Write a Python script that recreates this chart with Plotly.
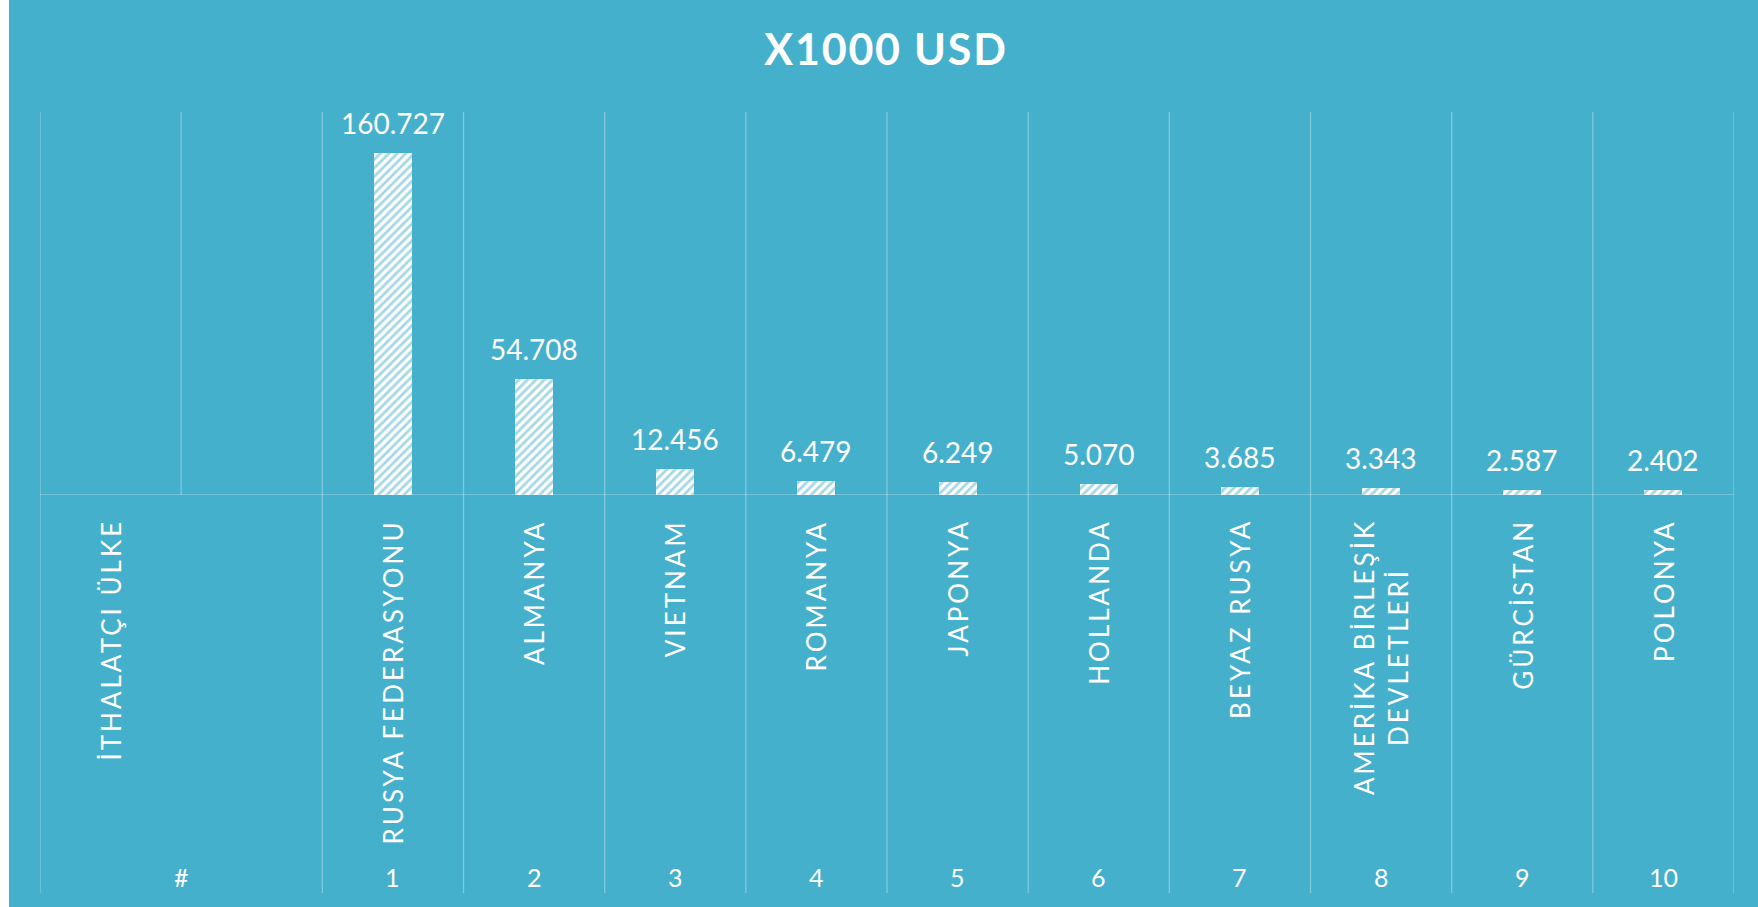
import plotly.graph_objects as go

# ---- data ----
header_label = "İTHALATÇI ÜLKE"
header_rank = "#"
ranks = ["1", "2", "3", "4", "5", "6", "7", "8", "9", "10"]
countries = ["RUSYA FEDERASYONU", "ALMANYA", "VIETNAM", "ROMANYA", "JAPONYA",
             "HOLLANDA", "BEYAZ RUSYA", "AMERİKA BİRLEŞİK<br>DEVLETLERİ",
             "GÜRCİSTAN", "POLONYA"]
values = [160727, 54708, 12456, 6479, 6249, 5070, 3685, 3343, 2587, 2402]
title_text = "X1000 USD"

# ---- style ----
BG = "#45B0CC"
GRID = "rgba(255,255,255,0.32)"
FONT = "Lato"
W, H = 1758, 907
ML, MR, MT, MB = 40, 24, 112, 412
PH = H - MT - MB

def py(px):
    """pixel y (from top) -> paper y"""
    return (H - MB - px) / PH

n_slots = len(values) + 2
xpos = [i + 2 for i in range(len(values))]

fig = go.Figure()
fig.add_trace(go.Bar(
    x=xpos, y=values, width=0.27,
    marker=dict(color="white", line=dict(width=0),
                pattern=dict(shape="/", fgcolor=BG, bgcolor="white",
                             size=6, solidity=0.45)),
    hoverinfo="skip", showlegend=False,
))

def fmt(v):
    return f"{v:,}".replace(",", ".")

annotations = []
for x, v in zip(xpos, values):
    annotations.append(dict(x=x, y=v, xref="x", yref="y", text=fmt(v),
                            showarrow=False, yanchor="bottom", yshift=11,
                            font=dict(family=FONT, size=28, color="white")))

lab_style = "letter-spacing:3px"
annotations.append(dict(x=0, y=py(517), xref="x", yref="paper",
                        text=f'<span style="{lab_style}">{header_label}</span>',
                        textangle=-90, showarrow=False, yanchor="top", xanchor="center",
                        font=dict(family=FONT, size=26, color="white")))
for x, c in zip(xpos, countries):
    annotations.append(dict(x=x, y=py(517), xref="x", yref="paper",
                            text=f'<span style="{lab_style}">{c}</span>',
                            textangle=-90, showarrow=False, yanchor="top", xanchor="center",
                            align="center",
                            font=dict(family=FONT, size=26, color="white")))
annotations.append(dict(x=0.5, y=py(877), xref="x", yref="paper", text=header_rank,
                        showarrow=False, yanchor="middle",
                        font=dict(family=FONT, size=25, color="white")))
for x, r in zip(xpos, ranks):
    annotations.append(dict(x=x, y=py(877), xref="x", yref="paper", text=r,
                            showarrow=False, yanchor="middle",
                            font=dict(family=FONT, size=25, color="white")))

shapes = []
bounds = [b - 0.5 for b in range(n_slots + 1)]
for b in bounds:
    y0 = py(495) if b == 0.5 else py(893)
    shapes.append(dict(type="line", xref="x", yref="paper", x0=b, x1=b,
                       y0=y0, y1=1, line=dict(color=GRID, width=1.3)))
shapes.append(dict(type="line", xref="x", yref="y", x0=bounds[0], x1=bounds[-1],
                   y0=0, y1=0, line=dict(color=GRID, width=1.3)))
PW = W - ML - MR
shapes.append(dict(type="rect", xref="paper", yref="paper",
                   x0=(0 - ML) / PW, x1=(9 - ML) / PW, y0=py(H + 5), y1=py(-5),
                   fillcolor="white", line=dict(width=0), layer="above"))

fig.update_layout(
    width=W, height=H,
    margin=dict(l=ML, r=MR, t=MT, b=MB, pad=0),
    paper_bgcolor=BG, plot_bgcolor="rgba(0,0,0,0)",
    title=dict(text=f'<b><span style="letter-spacing:1.8px">{title_text}</span></b>',
               x=(886) / W, xanchor="center",
               y=1 - 50 / H, yanchor="middle", yref="container",
               font=dict(family=FONT, size=43, color="white")),
    xaxis=dict(range=[bounds[0], bounds[-1]], visible=False, fixedrange=True),
    yaxis=dict(range=[0, 180000], visible=False, fixedrange=True),
    annotations=annotations, shapes=shapes,
    bargap=0, showlegend=False,
)

fig.write_html("out.html", config={"displayModeBar": False},
               post_script="document.body.style.margin='0';document.body.style.overflow='hidden';")
